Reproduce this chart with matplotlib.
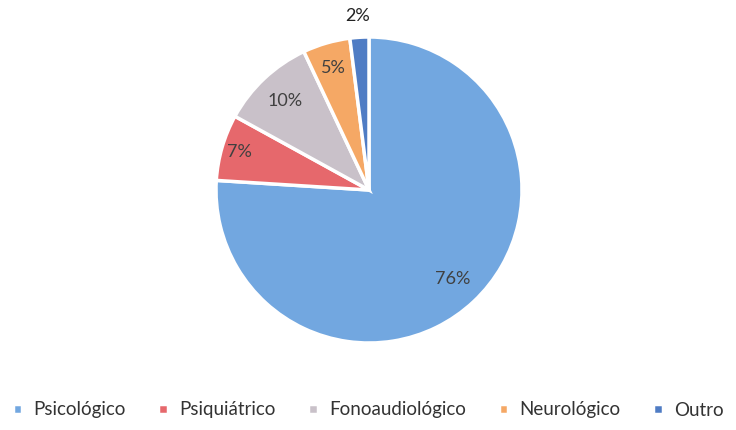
import numpy as np
from matplotlib import pyplot as plt

categories = ['Psicológico', 'Psiquiátrico', 'Fonoaudiológico', 'Neurológico', 'Outro']
values = [76, 7, 10, 5, 2]
labels = ['76%', '7%', '10%', '5%', '2%']
colors = ['#72a7e0', '#e6686c', '#c9c1c9', '#f5a865', '#4f7cc4']
label_dist = [0.8, 0.88, 0.8, 0.83, 1.14]

plt.rcParams['font.family'] = ['Lato', 'DejaVu Sans']

fig = plt.figure(figsize=(7.36, 4.30), dpi=100)
r = 153
ax = fig.add_axes([(369 - r) / 736, (430 - 190 - r) / 430, 2 * r / 736, 2 * r / 430])

wedges, _ = ax.pie(values, colors=colors, startangle=90, counterclock=False, radius=1,
                   wedgeprops=dict(edgecolor='white', linewidth=2.5))
ax.set_xlim(-1, 1)
ax.set_ylim(-1, 1)
ax.set_aspect('auto')

for w, lab, d in zip(wedges, labels, label_dist):
    ang = np.deg2rad((w.theta1 + w.theta2) / 2)
    ax.text(d * np.cos(ang), d * np.sin(ang), lab, ha='center', va='center',
            fontsize=13, color='#404040' if d < 1 else '#222222')

fig.legend(wedges, categories, loc='center', bbox_to_anchor=(0.5, 1 - 410 / 430), ncol=5,
           frameon=False, fontsize=13.5, handlelength=0.5, handleheight=0.5,
           columnspacing=1.75, handletextpad=0.6, labelcolor='#333333')

fig.savefig('out.png', dpi=100)
